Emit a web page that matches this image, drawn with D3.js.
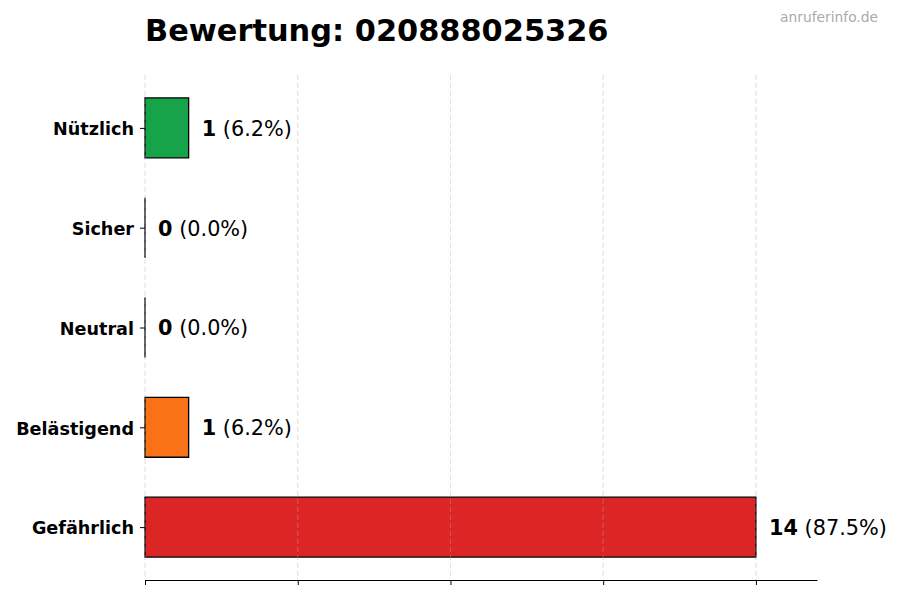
<!DOCTYPE html>
<html>
<head>
<meta charset="utf-8">
<script src="https://cdn.jsdelivr.net/npm/d3@7"></script>
<style>
  body { margin: 0; background: #fff; }
  svg { display: block; font-family: "DejaVu Sans", sans-serif; }
</style>
</head>
<body>
<svg width="900" height="600"></svg>
<script>
// data, bottom to top
const categories = ["Gefährlich", "Belästigend", "Neutral", "Sicher", "Nützlich"];
const counts = [14, 1, 0, 0, 1];
const percents = ["87.5%", "6.2%", "0.0%", "0.0%", "6.2%"];
const barColors = ["#dc2626", "#f97316", "#9ca3af", "#3b82f6", "#16a34a"];
const xTicks = [0, 3.5, 7, 10.5, 14];

const svg = d3.select("svg");

const margin = { left: 145, right: 83, top: 75, bottom: 20 };
const chartWidth = 900 - margin.left - margin.right;
const chartHeight = 600 - margin.top - margin.bottom;

const chartGroup = svg.append("g")
  .attr("transform", `translate(${margin.left}, ${margin.top})`);

const maxVal = d3.max(counts);
const xScaler = d3.scaleLinear().domain([0, maxVal * 1.1]).range([0, chartWidth]);
const yScaler = d3.scaleLinear().domain([-0.53, categories.length - 1 + 0.53]).range([chartHeight, 0]);
const barHalf = 0.3;

const rows = categories.map((c, i) => ({ cat: c, i, v: counts[i], pct: percents[i], color: barColors[i] }));

// bars (path so zero-width bars still show their edge)
chartGroup.selectAll("path.bar")
  .data(rows)
  .join("path")
  .attr("class", "bar")
  .attr("d", d => {
    const x0 = xScaler(0), x1 = xScaler(d.v);
    const y0 = yScaler(d.i + barHalf), y1 = yScaler(d.i - barHalf);
    return `M${x0},${y0}H${x1}V${y1}H${x0}Z`;
  })
  .attr("fill", d => d.color)
  .attr("stroke", "#000")
  .attr("stroke-width", 1.3);

// grid on top, faint
chartGroup.selectAll("line.grid")
  .data(xTicks)
  .join("line")
  .attr("class", "grid")
  .attr("x1", d => xScaler(d)).attr("x2", d => xScaler(d))
  .attr("y1", 0).attr("y2", chartHeight)
  .attr("stroke", "#b0b0b0")
  .attr("stroke-opacity", 0.5)
  .attr("stroke-dasharray", "5,3")
  .attr("stroke-width", 0.8);

// x axis, no labels
const xAxisGroup = chartGroup.append("g")
  .attr("transform", `translate(0, ${chartHeight})`)
  .call(d3.axisBottom(xScaler).tickValues(xTicks).tickFormat("").tickSize(5).tickSizeOuter(0));
xAxisGroup.select(".domain").attr("stroke", "#000").attr("stroke-width", 1);
xAxisGroup.selectAll(".tick line").attr("stroke", "#000");

// y axis: ticks and labels only
const yAxisGroup = chartGroup.append("g")
  .call(d3.axisLeft(yScaler)
    .tickValues(rows.map(d => d.i))
    .tickFormat(i => categories[i])
    .tickSize(5).tickPadding(6));
yAxisGroup.select(".domain").remove();
yAxisGroup.selectAll(".tick line").attr("stroke", "#000");
yAxisGroup.selectAll(".tick text")
  .attr("font-family", "DejaVu Sans")
  .attr("font-size", 17.6)
  .attr("font-weight", "bold")
  .attr("dy", "0.38em")
  .attr("fill", "#000");

// value labels
const labels = chartGroup.selectAll("text.val")
  .data(rows)
  .join("text")
  .attr("class", "val")
  .attr("x", d => xScaler(d.v + 0.3))
  .attr("y", d => yScaler(d.i))
  .attr("dy", "0.38em")
  .attr("font-size", 20.8)
  .attr("fill", "#000");
labels.append("tspan").attr("font-weight", "bold").text(d => d.v);
labels.append("tspan").text(d => ` (${d.pct})`);

// title and watermark
svg.append("text")
  .attr("x", margin.left)
  .attr("y", 41)
  .attr("font-size", 30.4)
  .attr("font-weight", "bold")
  .attr("fill", "#000")
  .text("Bewertung: 020888025326");

svg.append("text")
  .attr("x", 878)
  .attr("y", 22)
  .attr("text-anchor", "end")
  .attr("font-size", 13.8)
  .attr("fill", "#aaaaaa")
  .text("anruferinfo.de");
</script>
</body>
</html>
